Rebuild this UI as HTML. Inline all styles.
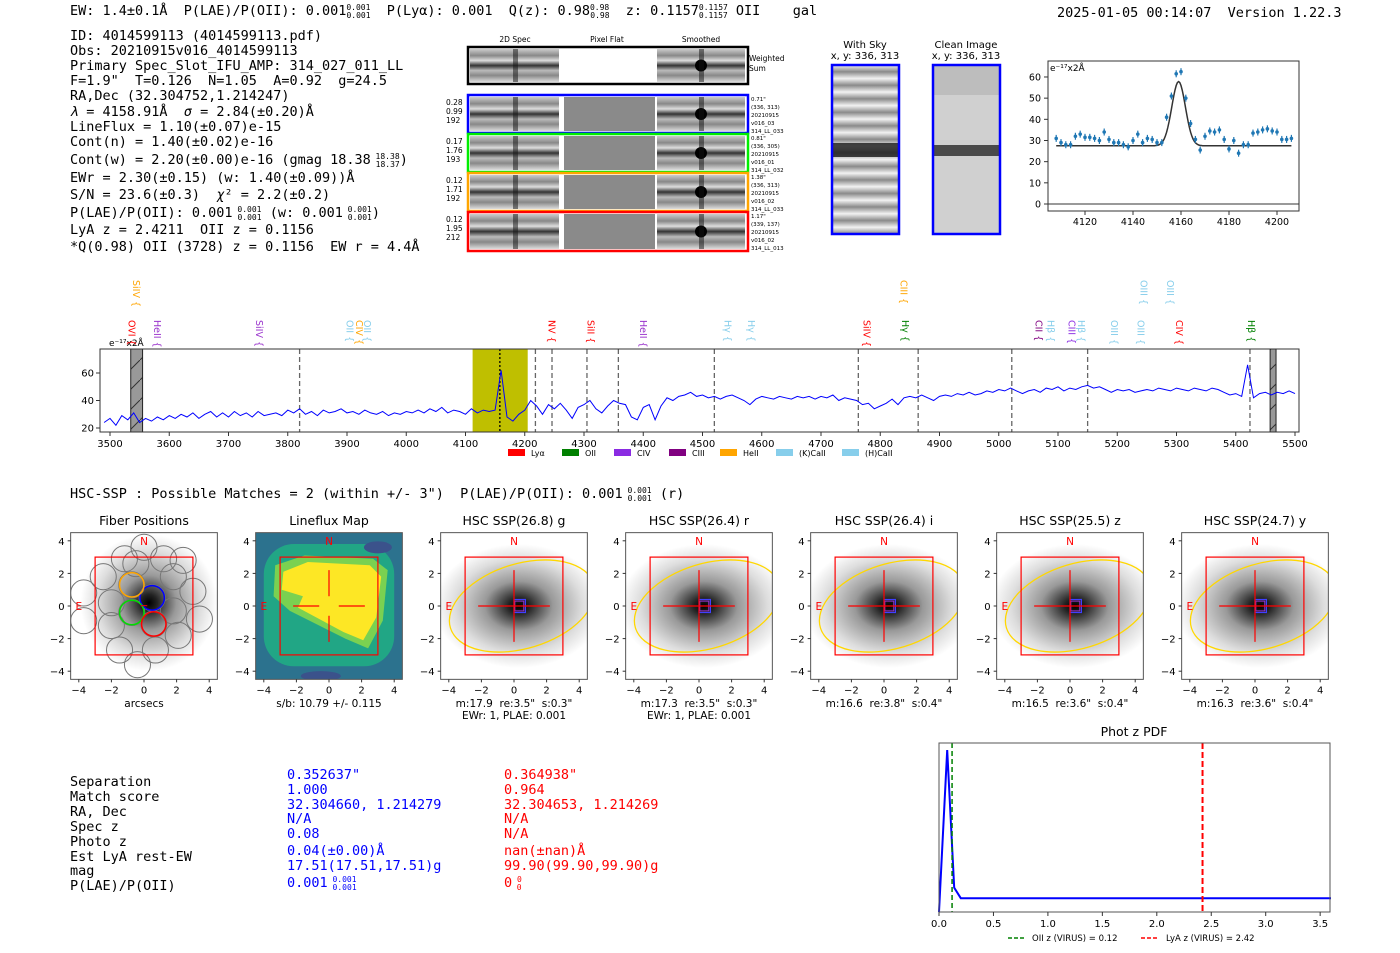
<!DOCTYPE html>
<html><head><meta charset="utf-8">
<style>
html,body{margin:0;padding:0;background:#fff;}
svg{display:block;font-family:"DejaVu Sans","Liberation Sans",sans-serif;}
svg text{white-space:pre;}
.mono{font-family:"DejaVu Sans Mono","Liberation Mono",monospace;}
</style></head>
<body>
<svg id="fig" width="1400" height="953" viewBox="0 0 1400 953" xmlns="http://www.w3.org/2000/svg" xml:space="preserve">
<defs>
  <radialGradient id="blob" cx="50%" cy="50%" r="50%">
    <stop offset="0" stop-color="#000"/><stop offset="0.12" stop-color="#222"/>
    <stop offset="0.4" stop-color="#999"/><stop offset="0.75" stop-color="#ddd"/><stop offset="1" stop-color="#fff"/>
  </radialGradient>
  <pattern id="hatch" width="20" height="20" patternUnits="userSpaceOnUse">
    <rect width="20" height="20" fill="#999"/><path d="M0,20 L20,0" stroke="#333" stroke-width="1"/>
  </pattern>
  <linearGradient id="stripes" x1="0" y1="0" x2="0" y2="1">
    <stop offset="0" stop-color="#ccc"/><stop offset="0.2" stop-color="#888"/><stop offset="0.35" stop-color="#ddd"/>
    <stop offset="0.5" stop-color="#333"/><stop offset="0.65" stop-color="#bbb"/><stop offset="0.8" stop-color="#888"/><stop offset="1" stop-color="#ddd"/>
  </linearGradient>
  <linearGradient id="skystripes" x1="0" y1="0" x2="0" y2="0.08" spreadMethod="repeat">
    <stop offset="0" stop-color="#f2f2f2"/><stop offset="0.5" stop-color="#8a8a8a"/><stop offset="1" stop-color="#f2f2f2"/>
  </linearGradient>
</defs>

<g class="mono" font-size="13.5">
  <text x="70" y="15">EW: 1.4±0.1Å  P(LAE)/P(OII): 0.001<tspan font-size="8" dy="-5">0.001</tspan><tspan font-size="8" dx="-24" dy="8">0.001</tspan><tspan dy="-3">  P(Lyα): 0.001  Q(z): 0.98</tspan><tspan font-size="8" dy="-5">0.98</tspan><tspan font-size="8" dx="-19" dy="8">0.98</tspan><tspan dy="-3">  z: 0.1157</tspan><tspan font-size="8" dy="-5">0.1157</tspan><tspan font-size="8" dx="-29" dy="8">0.1157</tspan><tspan dy="-3"> OII    gal</tspan></text>
  <text x="1057" y="17">2025-01-05 00:14:07  Version 1.22.3</text>
</g>

<g class="mono" font-size="13.5">
  <text x="70" y="40">ID: 4014599113 (4014599113.pdf)</text>
  <text x="70" y="55">Obs: 20210915v016_4014599113</text>
  <text x="70" y="70">Primary Spec_Slot_IFU_AMP: 314_027_011_LL</text>
  <text x="70" y="85">F=1.9"  T=0.126  N=1.05  A=0.92  g=24.5</text>
  <text x="70" y="100">RA,Dec (32.304752,1.214247)</text>
  <text x="70" y="116"><tspan font-style="italic">λ</tspan> = 4158.91Å  <tspan font-style="italic">σ</tspan> = 2.84(±0.20)Å</text>
  <text x="70" y="131">LineFlux = 1.10(±0.07)e-15</text>
  <text x="70" y="146">Cont(n) = 1.40(±0.02)e-16</text>
  <text x="70" y="164">Cont(w) = 2.20(±0.00)e-16 (gmag 18.38<tspan font-size="8" dy="-5"> 18.38</tspan><tspan font-size="8" dx="-24" dy="8">18.37</tspan><tspan dy="-3">)</tspan></text>
  <text x="70" y="182">EWr = 2.30(±0.15) (w: 1.40(±0.09))Å</text>
  <text x="70" y="199">S/N = 23.6(±0.3)  <tspan font-style="italic">χ</tspan>² = 2.2(±0.2)</text>
  <text x="70" y="217">P(LAE)/P(OII): 0.001<tspan font-size="8" dy="-5"> 0.001</tspan><tspan font-size="8" dx="-24" dy="8">0.001</tspan><tspan dy="-3"> (w: 0.001</tspan><tspan font-size="8" dy="-5"> 0.001</tspan><tspan font-size="8" dx="-24" dy="8">0.001</tspan><tspan dy="-3">)</tspan></text>
  <text x="70" y="234">LyA z = 2.4211  OII z = 0.1156</text>
  <text x="70" y="251">*Q(0.98) OII (3728) z = 0.1156  EW r = 4.4Å</text>
</g>

<g id="cutouts" font-size="7.5">
  <text x="515" y="42" text-anchor="middle">2D Spec</text>
  <text x="607" y="42" text-anchor="middle">Pixel Flat</text>
  <text x="701" y="42" text-anchor="middle">Smoothed</text>
  <text x="749" y="61">Weighted</text><text x="749" y="71">Sum</text>
</g>

<g font-size="10">
  <text x="865" y="48" text-anchor="middle">With Sky</text>
  <text x="865" y="59" text-anchor="middle">x, y: 336, 313</text>
  <text x="966" y="48" text-anchor="middle">Clean Image</text>
  <text x="966" y="59" text-anchor="middle">x, y: 336, 313</text>
  <g>
    <rect x="832" y="65" width="67" height="169" fill="url(#skystripes)"/>
    <rect x="832" y="143" width="67" height="14" fill="#222" opacity="0.85"/>
    <rect x="832" y="65" width="67" height="169" fill="none" stroke="#00f" stroke-width="2.5"/>
  </g>
  <g>
    <rect x="933" y="65" width="67" height="169" fill="#d0d0d0"/>
    <rect x="933" y="65" width="67" height="30" fill="#bdbdbd"/>
    <rect x="933" y="145" width="67" height="11" fill="#333" opacity="0.85"/>
    <rect x="933" y="65" width="67" height="169" fill="none" stroke="#00f" stroke-width="2.5"/>
  </g>
</g>

<g id="fitplot"></g>
<g id="spectrum"></g>

<text x="70" y="498" class="mono" font-size="13.5">HSC-SSP : Possible Matches = 2 (within +/- 3")  P(LAE)/P(OII): 0.001<tspan font-size="8" dy="-5"> 0.001</tspan><tspan font-size="8" dx="-24" dy="8">0.001</tspan><tspan dy="-3"> (r)</tspan></text>

<g id="panels"></g>

<g class="mono" font-size="13.5">
  <g>
    <text x="70" y="786">Separation</text><text x="70" y="801">Match score</text><text x="70" y="816">RA, Dec</text>
    <text x="70" y="831">Spec z</text><text x="70" y="846">Photo z</text><text x="70" y="861">Est LyA rest-EW</text>
    <text x="70" y="875">mag</text><text x="70" y="890">P(LAE)/P(OII)</text>
  </g>
  <g fill="#0000ff">
    <text x="287" y="779">0.352637"</text><text x="287" y="794">1.000</text><text x="287" y="809">32.304660, 1.214279</text>
    <text x="287" y="823">N/A</text><text x="287" y="838">0.08</text><text x="287" y="855">0.04(±0.00)Å</text>
    <text x="287" y="870">17.51(17.51,17.51)g</text>
    <text x="287" y="887">0.001<tspan font-size="8" dy="-5"> 0.001</tspan><tspan font-size="8" dx="-24" dy="8">0.001</tspan></text>
  </g>
  <g fill="#ff0000">
    <text x="504" y="779">0.364938"</text><text x="504" y="794">0.964</text><text x="504" y="809">32.304653, 1.214269</text>
    <text x="504" y="823">N/A</text><text x="504" y="838">N/A</text><text x="504" y="855">nan(±nan)Å</text>
    <text x="504" y="870">99.90(99.90,99.90)g</text>
    <text x="504" y="887">0<tspan font-size="8" dy="-5"> 0</tspan><tspan font-size="8" dx="-5" dy="8">0</tspan></text>
  </g>
</g>

<g id="pdfplot"></g>
</svg>

<script>
const fitWave = [];
for (let w = 4108; w <= 4206; w += 2) fitWave.push(w);
const fitFlux = [31,29,28,28,32,33,31.5,31.5,31,30,34,30.5,29,29,28,27,30,33,29,31,30.5,29,29,41,51,61.5,62.5,50,38,30.5,25.5,32,34.5,34,35,30.5,26,30,24,28,28,33.5,34,35,35.5,34.5,34,30.5,30.5,31];
const fitParams = [4159, 2.84, 30.3, 27.5];
const fitXTicks = [4120,4140,4160,4180,4200];
const fitYTicks = [0,10,20,30,40,50,60];

const specStart = 3490, specStep = 10;
const specFlux = [
24,27,22,29,26,31,24,27,25,28,
26,29,27,30,28,31,27,30,32,28,
31,28,32,29,31,28,32,29,30,31,
29,33,31,34,30,32,29,33,31,32,
34,31,32,30,33,31,30,32,29,31,
30,32,31,33,31,34,32,35,31,33,
32,30,34,31,33,32,33,62,28,25,
30,33,40,36,30,37,34,38,33,27,
35,37,40,34,31,36,40,38,37,28,
26,35,37,26,36,42,40,43,44,46,
43,44,42,43,41,43,44,42,40,37,
41,43,42,41,43,42,41,43,42,43,
41,43,42,44,40,42,41,40,37,38,
34,36,38,41,37,42,43,42,44,42,
40,43,44,43,45,44,46,44,45,47,
46,48,47,49,47,45,47,48,46,49,
48,50,47,49,48,50,51,49,50,48,
46,48,47,48,46,47,48,47,49,48,
47,49,48,47,49,48,47,49,48,46,
44,45,43,66,42,45,46,44,46,45,
47,45];
const specXTicks = [3500,3600,3700,3800,3900,4000,4100,4200,4300,4400,4500,4600,4700,4800,4900,5000,5100,5200,5300,5400,5500];
const specYTicks = [20,40,60];
const dashedLines = [3820,4218,4246,4305,4358,4520,4763,4864,5022,5150,5424];
const lineNames = ["OVI","HeII","SiIV","OII","CIV","OII","NV","SiII","HeII","Hγ","Hγ","SiIV","Hγ","CII","Hβ","CIII","Hβ","OIII","OIII","CIV","Hβ","SiIV","CIII","OIII","OIII"];
const lineWaves = [3537,3580,3752,3905,3921,3935,4246,4312,4400,4543,4583,4778,4843,5068,5088,5124,5140,5195,5240,5305,5427,3545,4840,5245,5290];
const lineColors = ["#ff0000","#9932cc","#9932cc","#87ceeb","#ffa500","#87ceeb","#ff0000","#ff0000","#9932cc","#87ceeb","#87ceeb","#ff0000","#008000","#800080","#87ceeb","#8a2be2","#87ceeb","#87ceeb","#87ceeb","#ff0000","#008000","#ffa500","#ffa500","#87ceeb","#87ceeb"];
const lineRow = [0,0,0,0,0,0,0,0,0,0,0,0,0,0,0,0,0,0,0,0,0,1,1,1,1];
const legendNames = ["Lyα","OII","CIV","CIII","HeII","(K)CaII","(H)CaII"];
const legendColors = ["#ff0000","#008000","#8a2be2","#800080","#ffa500","#87ceeb","#87ceeb"];

const pdfZ = [0.0,0.075,0.14,0.2,3.6];
const pdfP = [0.0,1.0,0.15,0.085,0.085];
const pdfXTicks = [0.0,0.5,1.0,1.5,2.0,2.5,3.0,3.5];
const pdfMarkers = [0.12,2.42];

const panelTitles = ["Fiber Positions","Lineflux Map","HSC SSP(26.8) g","HSC SSP(26.4) r","HSC SSP(26.4) i","HSC SSP(25.5) z","HSC SSP(24.7) y"];
const panelCaps1 = ["arcsecs","s/b: 10.79 +/- 0.115",'m:17.9  re:3.5"  s:0.3"','m:17.3  re:3.5"  s:0.3"','m:16.6  re:3.8"  s:0.4"','m:16.5  re:3.6"  s:0.4"','m:16.3  re:3.6"  s:0.4"'];
const panelCaps2 = ["","","EWr: 1, PLAE: 0.001","EWr: 1, PLAE: 0.001","","",""];
const panelTicks = [-4,-2,0,2,4];

const NS = "http://www.w3.org/2000/svg";
function mk(parent, tag, attrs, text) {
  const e = document.createElementNS(NS, tag);
  for (const k in attrs) e.setAttribute(k, attrs[k]);
  if (text !== undefined) e.textContent = text;
  parent.appendChild(e);
  return e;
}

(function(){
  const g = document.getElementById('cutouts');
  const rows = [[47,84,"#000","",""],[95,133,"#0000ff","0.28|0.99|192","0.71\"|(336, 313)|20210915|v016_03|314_LL_033"],[134,172,"#00ee00","0.17|1.76|193","0.81\"|(336, 305)|20210915|v016_01|314_LL_032"],[173,211,"#ffa500","0.12|1.71|192","1.38\"|(336, 313)|20210915|v016_02|314_LL_033"],[212,251,"#ff0000","0.12|1.95|212","1.17\"|(339, 137)|20210915|v016_02|314_LL_013"]];
  rows.forEach((r,i)=>{
    const y0=r[0]+2, h=r[1]-r[0]-4;
    const a = mk(g,'rect',{x:470,y:y0,width:89,height:h,fill:'url(#stripes)'});
    
    
    mk(g,'rect',{x:513,y:y0,width:5,height:h,fill:'#111',opacity:0.5});
    const b = mk(g,'rect',{x:564,y:y0,width:91,height:h,fill:i==0?'#fff':'#8a8a8a'});
    
    
    const c = mk(g,'rect',{x:657,y:y0,width:88,height:h,fill:'url(#stripes)'});
    
    
    mk(g,'circle',{cx:701,cy:y0+h/2,r:6,fill:'#000'});
    mk(g,'rect',{x:699,y:y0,width:5,height:h,fill:'#111',opacity:0.5});
    const f = mk(g,'rect',{x:468,y:r[0],width:280,height:r[1]-r[0],fill:'none',stroke:r[2],'stroke-width':2.5});
    
    
    if (r[3]) r[3].split('|').forEach((t,j)=>mk(g,'text',{x:446,y:r[0]+10+j*9,'font-size':7.5},t));
    if (r[4]) r[4].split('|').forEach((t,j)=>mk(g,'text',{x:751,y:r[0]+6+j*8,'font-size':5.5},t));
  });
})();

(function(){
  const g = document.getElementById('fitplot');
  const L=1048,R=1299,T=61,B=211;
  const xs = w => 1085 + (w-4120)*2.4;
  const ys = v => 204 - v*2.117;
  mk(g,'rect',{x:L,y:T,width:R-L,height:B-T,fill:'#fff',stroke:'#333','stroke-width':1});
  mk(g,'line',{x1:L,x2:R,y1:ys(0),y2:ys(0),stroke:'#333','stroke-width':1});
  fitXTicks.forEach(t=>{mk(g,'line',{x1:xs(t),x2:xs(t),y1:B,y2:B+4,stroke:'#333'});mk(g,'text',{x:xs(t),y:B+14,'font-size':9.5,'text-anchor':'middle'},t);});
  fitYTicks.forEach(t=>{mk(g,'line',{x1:L-4,x2:L,y1:ys(t),y2:ys(t),stroke:'#333'});mk(g,'text',{x:L-7,y:ys(t)+3.5,'font-size':9.5,'text-anchor':'end'},t);});
  mk(g,'text',{x:L+2,y:T+10,'font-size':9},'e⁻¹⁷x2Å');
  let d='';
  for (let w=fitWave[0]; w<=fitWave[fitWave.length-1]; w+=0.5){
    const v = fitParams[3] + fitParams[2]*Math.exp(-0.5*Math.pow((w-fitParams[0])/fitParams[1],2));
    d += (d?'L':'M')+xs(w).toFixed(1)+','+ys(v).toFixed(1);
  }
  const fl = mk(g,'path',{d:d,fill:'none',stroke:'#333','stroke-width':1.5});
  
  
  fitWave.forEach((w,i)=>{
    const p = mk(g,'g',{});
    
    
    mk(p,'line',{x1:xs(w),x2:xs(w),y1:ys(fitFlux[i])-3.5,y2:ys(fitFlux[i])+3.5,stroke:'#1f77b4','stroke-width':1.2});
    mk(p,'circle',{cx:xs(w),cy:ys(fitFlux[i]),r:1.8,fill:'#1f77b4'});
  });
})();

(function(){
  const g = document.getElementById('spectrum');
  const L=100,R=1299,T=349,B=432;
  const xs = w => 110 + (w-3500)*0.5925;
  const ys = v => 428 - (v-20)*1.375;
  mk(g,'rect',{x:L,y:T,width:R-L,height:B-T,fill:'#fff'});
  const band = mk(g,'rect',{x:xs(4112),y:T,width:xs(4205)-xs(4112),height:B-T,fill:'#bfbf00'});
  
  
  [[3535,3555],[5458,5468]].forEach(b=>{
    const r = mk(g,'rect',{x:xs(b[0]),y:T,width:xs(b[1])-xs(b[0]),height:B-T,fill:'url(#hatch)',stroke:'#222','stroke-width':1});
    
    
  });
  dashedLines.forEach(w=>{
    const l = mk(g,'line',{x1:xs(w),x2:xs(w),y1:T,y2:B,stroke:'#666','stroke-width':1.3,'stroke-dasharray':'5,3'});
    
    
  });
  mk(g,'line',{x1:xs(4158),x2:xs(4158),y1:T,y2:B,stroke:'#000','stroke-width':1.3,'stroke-dasharray':'2,2'});
  let d='';
  specFlux.forEach((v,i)=>{const w=specStart+i*specStep; if(w<3483||w>5507)return; d+=(d?'L':'M')+xs(w).toFixed(1)+','+ys(v).toFixed(1);});
  const sp = mk(g,'path',{d:d,fill:'none',stroke:'#0000ff','stroke-width':1});
  
  
  mk(g,'rect',{x:L,y:T,width:R-L,height:B-T,fill:'none',stroke:'#333','stroke-width':1});
  specXTicks.forEach(t=>{mk(g,'line',{x1:xs(t),x2:xs(t),y1:B,y2:B+4,stroke:'#333'});mk(g,'text',{x:xs(t),y:B+15,'font-size':10,'text-anchor':'middle'},t);});
  specYTicks.forEach(t=>{mk(g,'line',{x1:L-4,x2:L,y1:ys(t),y2:ys(t),stroke:'#333'});mk(g,'text',{x:L-6,y:ys(t)+3.5,'font-size':10,'text-anchor':'end'},t);});
  mk(g,'text',{x:109,y:346,'font-size':9},'e⁻¹⁷x2Å');
  lineNames.forEach((n,i)=>{
    const x = xs(lineWaves[i]);
    const yTop = lineRow[i] ? 280 : 320;
    const t = mk(g,'text',{transform:`translate(${x-3.5},${yTop}) rotate(90)`,'font-size':9.5,fill:lineColors[i]},n+' {');
    
    
  });
  let lx = 508;
  const gaps=[54,52,55,51,56,66,60];
  legendNames.forEach((n,i)=>{
    const e = mk(g,'g',{});
    
    
    mk(e,'rect',{x:lx,y:449,width:17,height:7,fill:legendColors[i]});
    mk(e,'text',{x:lx+23,y:456,'font-size':8},n);
    lx += gaps[i];
  });
})();

(function(){
  const g = document.getElementById('panels');
  const centers = [144,329,514,699,884,1070,1255];
  const cy = 606, s = 16.3;
  centers.forEach((cx,pi)=>{
    const p = mk(g,'g',{});
    
    
    const X = u => cx + u*s, Y = v => cy - v*s;
    const L=X(-4.5), T=Y(4.5), W=9*s;
    const clipId='clip'+pi;
    const cp = mk(p,'clipPath',{id:clipId}); mk(cp,'rect',{x:L,y:T,width:W,height:W});
    const inner = mk(p,'g',{'clip-path':`url(#${clipId})`});
    if (pi===1){
      mk(inner,'rect',{x:L,y:T,width:W,height:W,fill:'#2c728e'});
      mk(inner,'rect',{x:X(-4),y:Y(3.8),width:8*s,height:7.5*s,rx:30,fill:'#21a685'});
      mk(inner,'polygon',{points:[[-3.3,2.5],[-1.5,3.1],[2.7,2.9],[3.6,2.2],[3.3,-0.9],[2.4,-2.6],[1.0,-2.0],[-2.4,-0.3],[-3.4,0.6]].map(q=>X(q[0])+','+Y(q[1])).join(' '),fill:'#7ad151'});
      mk(inner,'polygon',{points:[[-2.8,2.1],[-1.3,2.7],[2.5,2.5],[3.2,1.8],[2.9,-0.7],[2.1,-2.1],[0.9,-1.6],[-1.9,-0.1],[-1.6,0.6],[-2.9,1.0]].map(q=>X(q[0])+','+Y(q[1])).join(' '),fill:'#fde725'});
      mk(inner,'ellipse',{cx:X(3),cy:Y(3.6),rx:14,ry:6,fill:'#3b528b'});
      mk(inner,'ellipse',{cx:X(-0.5),cy:Y(-4.3),rx:20,ry:5,fill:'#3b528b'});
    } else if (pi===0){
      mk(inner,'rect',{x:L,y:T,width:W,height:W,fill:'#fff'});
      mk(inner,'circle',{cx:X(0.3),cy:Y(0.2),r:4.2*s,fill:'url(#blob)'});
      const fib=[[0,3.6],[-1.2,2.9],[1.2,2.9],[-2.5,1.8],[-0.75,1.3],[0.5,0.5],[1.8,1.8],[-3.7,0.8],[-2.0,0.2],[-0.75,-0.4],[0.6,-1.1],[1.8,-0.3],[3.0,0.9],[-2.0,-1.2],[2.1,-1.8],[3.4,-0.8],[-1.5,-2.7],[0.7,-2.7],[-0.4,-3.6],[-3.7,-0.9],[-0.5,2.6],[2.4,2.8]];
      fib.forEach(f=>mk(inner,'circle',{cx:X(f[0]),cy:Y(f[1]),r:0.8*s,fill:'none',stroke:'#777','stroke-width':1}));
      [[0.5,0.5,'#0000ff'],[-0.75,1.3,'#ffa500'],[-0.75,-0.4,'#00dd00'],[0.6,-1.1,'#ff0000']].forEach(f=>{
        const c = mk(inner,'circle',{cx:X(f[0]),cy:Y(f[1]),r:0.75*s,fill:'none',stroke:f[2],'stroke-width':1.5});
        
        
      });
      mk(inner,'rect',{x:X(-0.2),y:Y(0.05),width:0.4*s,height:1,fill:'#f00'});
    } else {
      mk(inner,'rect',{x:L,y:T,width:W,height:W,fill:'#fff'});
      mk(inner,'ellipse',{cx:X(0.3),cy:Y(0),rx:5.2*s,ry:3.8*s,fill:'url(#blob)'});
      const el = mk(inner,'ellipse',{cx:X(0.5),cy:Y(0),rx:4.6*s,ry:2.6*s,fill:'none',stroke:'#ffd700','stroke-width':1.3,transform:`rotate(-17 ${X(0.5)} ${Y(0)})`});
      
      
      mk(inner,'rect',{x:X(0),y:Y(0.4),width:0.7*s,height:0.8*s,fill:'none',stroke:'#4040ff','stroke-width':1.2});
      mk(inner,'rect',{x:X(0.05),y:Y(0.3),width:0.55*s,height:0.6*s,fill:'none',stroke:'#9933cc','stroke-width':1});
    }
    mk(p,'rect',{x:X(-3),y:Y(3),width:6*s,height:6*s,fill:'none',stroke:'#ff0000','stroke-width':1.2});
    if (pi>0){
      [[X(-2.2),Y(0),X(-0.6),Y(0)],[X(0.6),Y(0),X(2.2),Y(0)],[X(0),Y(2.2),X(0),Y(0.6)],[X(0),Y(-0.6),X(0),Y(-2.2)]].forEach(l=>mk(p,'line',{x1:l[0],y1:l[1],x2:l[2],y2:l[3],stroke:'#ff0000','stroke-width':1.2}));
      if(pi>1){mk(p,'line',{x1:X(-0.6),y1:Y(0),x2:X(0.6),y2:Y(0),stroke:'#ff0000','stroke-width':1.2});mk(p,'line',{x1:X(0),y1:Y(0.6),x2:X(0),y2:Y(-0.6),stroke:'#ff0000','stroke-width':1.2});}
    }
    mk(p,'text',{x:X(0),y:Y(3.75),'font-size':10.5,fill:'#ff0000','text-anchor':'middle'},'N');
    mk(p,'text',{x:X(-4),y:Y(0)+4,'font-size':10.5,fill:'#ff0000','text-anchor':'middle'},'E');
    mk(p,'rect',{x:L,y:T,width:W,height:W,fill:'none',stroke:'#555','stroke-width':1});
    panelTicks.forEach(t=>{
      mk(p,'line',{x1:X(t),x2:X(t),y1:T+W,y2:T+W+3,stroke:'#333'});
      mk(p,'text',{x:X(t),y:T+W+14,'font-size':10,'text-anchor':'middle'},t<0?'−'+(-t):t);
      mk(p,'line',{x1:L-3,x2:L,y1:Y(t),y2:Y(t),stroke:'#333'});
      mk(p,'text',{x:L-6,y:Y(t)+4,'font-size':10,'text-anchor':'end'},t<0?'−'+(-t):t);
    });
    mk(p,'text',{x:cx,y:525,'font-size':12.5,'text-anchor':'middle'},panelTitles[pi]);
    mk(p,'text',{x:cx,y:707,'font-size':10.5,'text-anchor':'middle'},panelCaps1[pi]);
    if (panelCaps2[pi]) mk(p,'text',{x:cx,y:719,'font-size':10.5,'text-anchor':'middle'},panelCaps2[pi]);
  });
})();

(function(){
  const g = document.getElementById('pdfplot');
  const L=939,R=1330,T=743,B=912;
  const xs = z => L + z*108.9;
  const ys = v => B - v*162;
  mk(g,'text',{x:1134,y:736,'font-size':12.5,'text-anchor':'middle'},'Phot z PDF');
  let d='';
  pdfZ.forEach((z,i)=>{d+=(i?'L':'M')+xs(z).toFixed(1)+','+ys(pdfP[i]).toFixed(1);});
  const cl = mk(g,'path',{d:d,fill:'none',stroke:'#0000ff','stroke-width':2});
  
  
  const m1 = mk(g,'line',{x1:xs(pdfMarkers[0]),x2:xs(pdfMarkers[0]),y1:T,y2:B,stroke:'#008000','stroke-width':1.5,'stroke-dasharray':'5,3'});
  
  
  const m2 = mk(g,'line',{x1:xs(pdfMarkers[1]),x2:xs(pdfMarkers[1]),y1:T,y2:B,stroke:'#ff0000','stroke-width':2,'stroke-dasharray':'6,3'});
  
  
  mk(g,'rect',{x:L,y:T,width:R-L,height:B-T,fill:'none',stroke:'#555','stroke-width':1});
  pdfXTicks.forEach(t=>{mk(g,'line',{x1:xs(t),x2:xs(t),y1:B,y2:B+4,stroke:'#333'});mk(g,'text',{x:xs(t),y:B+15,'font-size':10,'text-anchor':'middle'},t.toFixed(1));});
  const lg = mk(g,'g',{});
  
  
  mk(lg,'line',{x1:1008,x2:1024,y1:938,y2:938,stroke:'#008000','stroke-width':1.5,'stroke-dasharray':'4,2'});
  mk(lg,'text',{x:1032,y:941,'font-size':8.5},'OII z (VIRUS) = 0.12');
  mk(lg,'line',{x1:1141,x2:1157,y1:938,y2:938,stroke:'#ff0000','stroke-width':1.5,'stroke-dasharray':'4,2'});
  mk(lg,'text',{x:1166,y:941,'font-size':8.5},'LyA z (VIRUS) = 2.42');
})();
</script>
</body></html>
